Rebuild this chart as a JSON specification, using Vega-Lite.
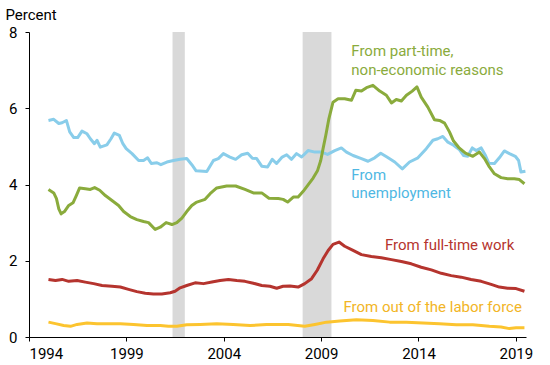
{
  "$schema": "https://vega.github.io/schema/vega-lite/v6.json",
  "width": 497,
  "height": 305,
  "autosize": {"type": "none"},
  "padding": {"left": 29, "top": 32, "right": 24, "bottom": 28},
  "background": "white",
  "config": {
    "view": {"stroke": null},
    "font": "Roboto",
    "axis": {"grid": false, "domainColor": "black", "tickColor": "black", "labelColor": "black", "labelFont": "Roboto", "labelFontSize": 15, "tickSize": 4, "domainWidth": 1, "tickWidth": 1}
  },
  "datasets": {
    "recessions": [
      {"start": 2001.37, "end": 2002.0},
      {"start": 2008.05, "end": 2009.53}
    ],
    "series": [
      {"series": "Unemployment", "year": 1995.0, "value": 5.68},
      {"series": "Unemployment", "year": 1995.27, "value": 5.71},
      {"series": "Unemployment", "year": 1995.53, "value": 5.6},
      {"series": "Unemployment", "year": 1995.7, "value": 5.62},
      {"series": "Unemployment", "year": 1995.92, "value": 5.68},
      {"series": "Unemployment", "year": 1996.09, "value": 5.38},
      {"series": "Unemployment", "year": 1996.3, "value": 5.23},
      {"series": "Unemployment", "year": 1996.5, "value": 5.23},
      {"series": "Unemployment", "year": 1996.72, "value": 5.4},
      {"series": "Unemployment", "year": 1996.98, "value": 5.33},
      {"series": "Unemployment", "year": 1997.15, "value": 5.2},
      {"series": "Unemployment", "year": 1997.36, "value": 5.07},
      {"series": "Unemployment", "year": 1997.49, "value": 5.16},
      {"series": "Unemployment", "year": 1997.66, "value": 4.98},
      {"series": "Unemployment", "year": 1998.0, "value": 5.04},
      {"series": "Unemployment", "year": 1998.21, "value": 5.2},
      {"series": "Unemployment", "year": 1998.38, "value": 5.35},
      {"series": "Unemployment", "year": 1998.64, "value": 5.29},
      {"series": "Unemployment", "year": 1998.82, "value": 5.07},
      {"series": "Unemployment", "year": 1998.99, "value": 4.94},
      {"series": "Unemployment", "year": 1999.29, "value": 4.81},
      {"series": "Unemployment", "year": 1999.63, "value": 4.63},
      {"series": "Unemployment", "year": 1999.88, "value": 4.63},
      {"series": "Unemployment", "year": 2000.09, "value": 4.7},
      {"series": "Unemployment", "year": 2000.28, "value": 4.55},
      {"series": "Unemployment", "year": 2000.57, "value": 4.57},
      {"series": "Unemployment", "year": 2000.77, "value": 4.52},
      {"series": "Unemployment", "year": 2001.08, "value": 4.59},
      {"series": "Unemployment", "year": 2001.42, "value": 4.63},
      {"series": "Unemployment", "year": 2001.76, "value": 4.66},
      {"series": "Unemployment", "year": 2002.1, "value": 4.68},
      {"series": "Unemployment", "year": 2002.36, "value": 4.52},
      {"series": "Unemployment", "year": 2002.58, "value": 4.36},
      {"series": "Unemployment", "year": 2003.13, "value": 4.34},
      {"series": "Unemployment", "year": 2003.47, "value": 4.63},
      {"series": "Unemployment", "year": 2003.72, "value": 4.68},
      {"series": "Unemployment", "year": 2003.98, "value": 4.81},
      {"series": "Unemployment", "year": 2004.32, "value": 4.72},
      {"series": "Unemployment", "year": 2004.61, "value": 4.66},
      {"series": "Unemployment", "year": 2004.92, "value": 4.78},
      {"series": "Unemployment", "year": 2005.23, "value": 4.82},
      {"series": "Unemployment", "year": 2005.47, "value": 4.69},
      {"series": "Unemployment", "year": 2005.69, "value": 4.68},
      {"series": "Unemployment", "year": 2005.95, "value": 4.48},
      {"series": "Unemployment", "year": 2006.25, "value": 4.46},
      {"series": "Unemployment", "year": 2006.49, "value": 4.66},
      {"series": "Unemployment", "year": 2006.71, "value": 4.55},
      {"series": "Unemployment", "year": 2007.0, "value": 4.72},
      {"series": "Unemployment", "year": 2007.23, "value": 4.78},
      {"series": "Unemployment", "year": 2007.48, "value": 4.66},
      {"series": "Unemployment", "year": 2007.74, "value": 4.81},
      {"series": "Unemployment", "year": 2008.0, "value": 4.72},
      {"series": "Unemployment", "year": 2008.33, "value": 4.89},
      {"series": "Unemployment", "year": 2008.68, "value": 4.85},
      {"series": "Unemployment", "year": 2009.02, "value": 4.85},
      {"series": "Unemployment", "year": 2009.33, "value": 4.79},
      {"series": "Unemployment", "year": 2009.7, "value": 4.89},
      {"series": "Unemployment", "year": 2010.04, "value": 4.96},
      {"series": "Unemployment", "year": 2010.3, "value": 4.85},
      {"series": "Unemployment", "year": 2010.64, "value": 4.76},
      {"series": "Unemployment", "year": 2011.07, "value": 4.68},
      {"series": "Unemployment", "year": 2011.41, "value": 4.61},
      {"series": "Unemployment", "year": 2011.75, "value": 4.7},
      {"series": "Unemployment", "year": 2012.06, "value": 4.82},
      {"series": "Unemployment", "year": 2012.38, "value": 4.72},
      {"series": "Unemployment", "year": 2012.78, "value": 4.59},
      {"series": "Unemployment", "year": 2013.17, "value": 4.41},
      {"series": "Unemployment", "year": 2013.54, "value": 4.59},
      {"series": "Unemployment", "year": 2013.97, "value": 4.7},
      {"series": "Unemployment", "year": 2014.4, "value": 4.94},
      {"series": "Unemployment", "year": 2014.74, "value": 5.16},
      {"series": "Unemployment", "year": 2014.99, "value": 5.2},
      {"series": "Unemployment", "year": 2015.25, "value": 5.26},
      {"series": "Unemployment", "year": 2015.51, "value": 5.11},
      {"series": "Unemployment", "year": 2015.8, "value": 5.03},
      {"series": "Unemployment", "year": 2016.11, "value": 4.91},
      {"series": "Unemployment", "year": 2016.31, "value": 4.76},
      {"series": "Unemployment", "year": 2016.53, "value": 4.74},
      {"series": "Unemployment", "year": 2016.76, "value": 4.96},
      {"series": "Unemployment", "year": 2016.96, "value": 4.89},
      {"series": "Unemployment", "year": 2017.22, "value": 4.96},
      {"series": "Unemployment", "year": 2017.44, "value": 4.76},
      {"series": "Unemployment", "year": 2017.61, "value": 4.56},
      {"series": "Unemployment", "year": 2017.9, "value": 4.55},
      {"series": "Unemployment", "year": 2018.15, "value": 4.7},
      {"series": "Unemployment", "year": 2018.41, "value": 4.88},
      {"series": "Unemployment", "year": 2018.67, "value": 4.81},
      {"series": "Unemployment", "year": 2018.97, "value": 4.74},
      {"series": "Unemployment", "year": 2019.14, "value": 4.63},
      {"series": "Unemployment", "year": 2019.26, "value": 4.33},
      {"series": "Unemployment", "year": 2019.49, "value": 4.35},

      {"series": "Part-time", "year": 1995.0, "value": 3.87},
      {"series": "Part-time", "year": 1995.27, "value": 3.78},
      {"series": "Part-time", "year": 1995.41, "value": 3.63},
      {"series": "Part-time", "year": 1995.53, "value": 3.36},
      {"series": "Part-time", "year": 1995.65, "value": 3.23},
      {"series": "Part-time", "year": 1995.82, "value": 3.29},
      {"series": "Part-time", "year": 1996.04, "value": 3.45},
      {"series": "Part-time", "year": 1996.26, "value": 3.52},
      {"series": "Part-time", "year": 1996.43, "value": 3.71},
      {"series": "Part-time", "year": 1996.6, "value": 3.91},
      {"series": "Part-time", "year": 1996.89, "value": 3.89},
      {"series": "Part-time", "year": 1997.15, "value": 3.87},
      {"series": "Part-time", "year": 1997.37, "value": 3.92},
      {"series": "Part-time", "year": 1997.63, "value": 3.85},
      {"series": "Part-time", "year": 1997.92, "value": 3.71},
      {"series": "Part-time", "year": 1998.26, "value": 3.58},
      {"series": "Part-time", "year": 1998.6, "value": 3.45},
      {"series": "Part-time", "year": 1998.86, "value": 3.29},
      {"series": "Part-time", "year": 1999.2, "value": 3.16},
      {"series": "Part-time", "year": 1999.54, "value": 3.08},
      {"series": "Part-time", "year": 1999.88, "value": 3.03},
      {"series": "Part-time", "year": 2000.14, "value": 3.0},
      {"series": "Part-time", "year": 2000.48, "value": 2.82},
      {"series": "Part-time", "year": 2000.74, "value": 2.88},
      {"series": "Part-time", "year": 2001.04, "value": 3.0},
      {"series": "Part-time", "year": 2001.34, "value": 2.95},
      {"series": "Part-time", "year": 2001.59, "value": 3.0},
      {"series": "Part-time", "year": 2001.85, "value": 3.12},
      {"series": "Part-time", "year": 2002.1, "value": 3.29},
      {"series": "Part-time", "year": 2002.36, "value": 3.45},
      {"series": "Part-time", "year": 2002.58, "value": 3.53},
      {"series": "Part-time", "year": 2003.04, "value": 3.61},
      {"series": "Part-time", "year": 2003.3, "value": 3.76},
      {"series": "Part-time", "year": 2003.64, "value": 3.91},
      {"series": "Part-time", "year": 2004.15, "value": 3.96},
      {"series": "Part-time", "year": 2004.61, "value": 3.96},
      {"series": "Part-time", "year": 2005.09, "value": 3.87},
      {"series": "Part-time", "year": 2005.52, "value": 3.78},
      {"series": "Part-time", "year": 2005.95, "value": 3.78},
      {"series": "Part-time", "year": 2006.32, "value": 3.64},
      {"series": "Part-time", "year": 2006.8, "value": 3.63},
      {"series": "Part-time", "year": 2007.05, "value": 3.61},
      {"series": "Part-time", "year": 2007.28, "value": 3.54},
      {"series": "Part-time", "year": 2007.57, "value": 3.67},
      {"series": "Part-time", "year": 2007.82, "value": 3.67},
      {"series": "Part-time", "year": 2008.08, "value": 3.82},
      {"series": "Part-time", "year": 2008.33, "value": 3.99},
      {"series": "Part-time", "year": 2008.59, "value": 4.17},
      {"series": "Part-time", "year": 2008.82, "value": 4.37},
      {"series": "Part-time", "year": 2008.98, "value": 4.63},
      {"series": "Part-time", "year": 2009.1, "value": 4.94},
      {"series": "Part-time", "year": 2009.24, "value": 5.29},
      {"series": "Part-time", "year": 2009.4, "value": 5.73},
      {"series": "Part-time", "year": 2009.61, "value": 6.16},
      {"series": "Part-time", "year": 2009.87, "value": 6.25},
      {"series": "Part-time", "year": 2010.21, "value": 6.25},
      {"series": "Part-time", "year": 2010.56, "value": 6.21},
      {"series": "Part-time", "year": 2010.78, "value": 6.47},
      {"series": "Part-time", "year": 2011.07, "value": 6.45},
      {"series": "Part-time", "year": 2011.33, "value": 6.54},
      {"series": "Part-time", "year": 2011.66, "value": 6.6},
      {"series": "Part-time", "year": 2012.01, "value": 6.45},
      {"series": "Part-time", "year": 2012.35, "value": 6.34},
      {"series": "Part-time", "year": 2012.61, "value": 6.14},
      {"series": "Part-time", "year": 2012.86, "value": 6.23},
      {"series": "Part-time", "year": 2013.12, "value": 6.19},
      {"series": "Part-time", "year": 2013.38, "value": 6.34},
      {"series": "Part-time", "year": 2013.68, "value": 6.45},
      {"series": "Part-time", "year": 2013.92, "value": 6.56},
      {"series": "Part-time", "year": 2014.14, "value": 6.29},
      {"series": "Part-time", "year": 2014.48, "value": 6.03},
      {"series": "Part-time", "year": 2014.82, "value": 5.7},
      {"series": "Part-time", "year": 2015.08, "value": 5.68},
      {"series": "Part-time", "year": 2015.34, "value": 5.61},
      {"series": "Part-time", "year": 2015.59, "value": 5.38},
      {"series": "Part-time", "year": 2015.8, "value": 5.14},
      {"series": "Part-time", "year": 2016.07, "value": 4.97},
      {"series": "Part-time", "year": 2016.41, "value": 4.82},
      {"series": "Part-time", "year": 2016.79, "value": 4.74},
      {"series": "Part-time", "year": 2017.13, "value": 4.85},
      {"series": "Part-time", "year": 2017.39, "value": 4.68},
      {"series": "Part-time", "year": 2017.64, "value": 4.46},
      {"series": "Part-time", "year": 2017.9, "value": 4.28},
      {"series": "Part-time", "year": 2018.24, "value": 4.18},
      {"series": "Part-time", "year": 2018.58, "value": 4.15},
      {"series": "Part-time", "year": 2018.92, "value": 4.15},
      {"series": "Part-time", "year": 2019.18, "value": 4.13},
      {"series": "Part-time", "year": 2019.44, "value": 4.02},

      {"series": "Full-time", "year": 1995.0, "value": 1.51},
      {"series": "Full-time", "year": 1995.36, "value": 1.48},
      {"series": "Full-time", "year": 1995.7, "value": 1.51},
      {"series": "Full-time", "year": 1996.04, "value": 1.46},
      {"series": "Full-time", "year": 1996.47, "value": 1.48},
      {"series": "Full-time", "year": 1996.89, "value": 1.44},
      {"series": "Full-time", "year": 1997.32, "value": 1.4},
      {"series": "Full-time", "year": 1997.75, "value": 1.35},
      {"series": "Full-time", "year": 1998.26, "value": 1.33},
      {"series": "Full-time", "year": 1998.69, "value": 1.31},
      {"series": "Full-time", "year": 1999.11, "value": 1.25},
      {"series": "Full-time", "year": 1999.54, "value": 1.19},
      {"series": "Full-time", "year": 1999.97, "value": 1.15},
      {"series": "Full-time", "year": 2000.39, "value": 1.13},
      {"series": "Full-time", "year": 2000.82, "value": 1.13},
      {"series": "Full-time", "year": 2001.25, "value": 1.16},
      {"series": "Full-time", "year": 2001.5, "value": 1.2},
      {"series": "Full-time", "year": 2001.76, "value": 1.29},
      {"series": "Full-time", "year": 2002.1, "value": 1.35},
      {"series": "Full-time", "year": 2002.53, "value": 1.42},
      {"series": "Full-time", "year": 2002.96, "value": 1.4},
      {"series": "Full-time", "year": 2003.39, "value": 1.44},
      {"series": "Full-time", "year": 2003.81, "value": 1.48},
      {"series": "Full-time", "year": 2004.24, "value": 1.51},
      {"series": "Full-time", "year": 2004.67, "value": 1.48},
      {"series": "Full-time", "year": 2005.09, "value": 1.46},
      {"series": "Full-time", "year": 2005.52, "value": 1.41},
      {"series": "Full-time", "year": 2005.95, "value": 1.35},
      {"series": "Full-time", "year": 2006.37, "value": 1.33},
      {"series": "Full-time", "year": 2006.72, "value": 1.28},
      {"series": "Full-time", "year": 2007.05, "value": 1.33},
      {"series": "Full-time", "year": 2007.4, "value": 1.34},
      {"series": "Full-time", "year": 2007.82, "value": 1.31},
      {"series": "Full-time", "year": 2008.16, "value": 1.4},
      {"series": "Full-time", "year": 2008.51, "value": 1.53},
      {"series": "Full-time", "year": 2008.8, "value": 1.75},
      {"series": "Full-time", "year": 2009.1, "value": 2.05},
      {"series": "Full-time", "year": 2009.36, "value": 2.27},
      {"series": "Full-time", "year": 2009.61, "value": 2.43},
      {"series": "Full-time", "year": 2009.92, "value": 2.49},
      {"series": "Full-time", "year": 2010.21, "value": 2.38},
      {"series": "Full-time", "year": 2010.64, "value": 2.27},
      {"series": "Full-time", "year": 2011.07, "value": 2.16},
      {"series": "Full-time", "year": 2011.58, "value": 2.11},
      {"series": "Full-time", "year": 2012.09, "value": 2.08},
      {"series": "Full-time", "year": 2012.61, "value": 2.03},
      {"series": "Full-time", "year": 2013.12, "value": 1.98},
      {"series": "Full-time", "year": 2013.63, "value": 1.92},
      {"series": "Full-time", "year": 2014.14, "value": 1.83},
      {"series": "Full-time", "year": 2014.66, "value": 1.76},
      {"series": "Full-time", "year": 2015.17, "value": 1.67},
      {"series": "Full-time", "year": 2015.68, "value": 1.61},
      {"series": "Full-time", "year": 2016.19, "value": 1.57},
      {"series": "Full-time", "year": 2016.7, "value": 1.51},
      {"series": "Full-time", "year": 2017.22, "value": 1.46},
      {"series": "Full-time", "year": 2017.73, "value": 1.38},
      {"series": "Full-time", "year": 2018.15, "value": 1.31},
      {"series": "Full-time", "year": 2018.58, "value": 1.28},
      {"series": "Full-time", "year": 2019.01, "value": 1.27},
      {"series": "Full-time", "year": 2019.44, "value": 1.2},

      {"series": "Out of labor force", "year": 1995.0, "value": 0.39},
      {"series": "Out of labor force", "year": 1995.36, "value": 0.35},
      {"series": "Out of labor force", "year": 1995.78, "value": 0.3},
      {"series": "Out of labor force", "year": 1996.13, "value": 0.28},
      {"series": "Out of labor force", "year": 1996.47, "value": 0.33},
      {"series": "Out of labor force", "year": 1996.98, "value": 0.37},
      {"series": "Out of labor force", "year": 1997.49, "value": 0.35},
      {"series": "Out of labor force", "year": 1998.0, "value": 0.35},
      {"series": "Out of labor force", "year": 1998.69, "value": 0.35},
      {"series": "Out of labor force", "year": 1999.37, "value": 0.33},
      {"series": "Out of labor force", "year": 2000.06, "value": 0.3},
      {"series": "Out of labor force", "year": 2000.74, "value": 0.3},
      {"series": "Out of labor force", "year": 2001.16, "value": 0.28},
      {"series": "Out of labor force", "year": 2001.59, "value": 0.28},
      {"series": "Out of labor force", "year": 2002.1, "value": 0.32},
      {"series": "Out of labor force", "year": 2002.79, "value": 0.33},
      {"series": "Out of labor force", "year": 2003.64, "value": 0.35},
      {"series": "Out of labor force", "year": 2004.49, "value": 0.33},
      {"series": "Out of labor force", "year": 2005.35, "value": 0.3},
      {"series": "Out of labor force", "year": 2006.2, "value": 0.33},
      {"series": "Out of labor force", "year": 2007.31, "value": 0.33},
      {"series": "Out of labor force", "year": 2008.16, "value": 0.28},
      {"series": "Out of labor force", "year": 2008.68, "value": 0.33},
      {"series": "Out of labor force", "year": 2009.28, "value": 0.39},
      {"series": "Out of labor force", "year": 2009.96, "value": 0.42},
      {"series": "Out of labor force", "year": 2010.81, "value": 0.45},
      {"series": "Out of labor force", "year": 2011.66, "value": 0.43},
      {"series": "Out of labor force", "year": 2012.52, "value": 0.39},
      {"series": "Out of labor force", "year": 2013.38, "value": 0.39},
      {"series": "Out of labor force", "year": 2014.23, "value": 0.37},
      {"series": "Out of labor force", "year": 2015.08, "value": 0.35},
      {"series": "Out of labor force", "year": 2015.94, "value": 0.32},
      {"series": "Out of labor force", "year": 2016.79, "value": 0.32},
      {"series": "Out of labor force", "year": 2017.64, "value": 0.28},
      {"series": "Out of labor force", "year": 2018.24, "value": 0.26},
      {"series": "Out of labor force", "year": 2018.67, "value": 0.22},
      {"series": "Out of labor force", "year": 2019.01, "value": 0.24},
      {"series": "Out of labor force", "year": 2019.44, "value": 0.24}
    ],
    "labels": [
      {"series": "Part-time", "year": 2010.55, "value": 7.49, "text": "From part-time,"},
      {"series": "Part-time", "year": 2010.55, "value": 7.01, "text": "non-economic reasons"},
      {"series": "Unemployment", "year": 2010.55, "value": 4.25, "text": "From"},
      {"series": "Unemployment", "year": 2010.55, "value": 3.78, "text": "unemployment"},
      {"series": "Full-time", "year": 2012.28, "value": 2.41, "text": "From full-time work"},
      {"series": "Out of labor force", "year": 2010.15, "value": 0.79, "text": "From out of the labor force"}
    ]
  },
  "layer": [
    {
      "data": {"name": "recessions"},
      "mark": {"type": "rect", "color": "#d9d9d9"},
      "encoding": {
        "x": {"field": "start", "type": "quantitative", "scale": {"domain": [1994, 2019.52], "nice": false, "zero": false},
          "axis": {"values": [1994, 1999, 2004, 2009, 2014, 2019], "format": "d", "title": null, "labelPadding": 5}},
        "x2": {"field": "end"}
      }
    },
    {
      "data": {"name": "series"},
      "mark": {"type": "line", "strokeWidth": 3, "strokeJoin": "round"},
      "encoding": {
        "x": {"field": "year", "type": "quantitative"},
        "y": {"field": "value", "type": "quantitative", "scale": {"domain": [0, 8], "nice": false},
          "axis": {"values": [0, 2, 4, 6, 8], "title": "Percent", "titleAngle": 0, "titleAlign": "left", "titleBaseline": "alphabetic", "titleX": -24, "titleY": -13, "titleFont": "Roboto", "titleFontSize": 15, "titleFontWeight": "normal", "titleColor": "black", "labelPadding": 8}},
        "color": {"field": "series", "type": "nominal", "legend": null,
          "scale": {"domain": ["Unemployment", "Part-time", "Full-time", "Out of labor force"], "range": ["#89cdea", "#8aab3c", "#b5342e", "#fcc42f"]}},
        "order": {"field": "year"}
      }
    },
    {
      "data": {"name": "labels"},
      "mark": {"type": "text", "align": "left", "baseline": "middle", "font": "Roboto", "fontSize": 15},
      "encoding": {
        "x": {"field": "year", "type": "quantitative"},
        "y": {"field": "value", "type": "quantitative"},
        "text": {"field": "text"},
        "color": {"field": "series", "type": "nominal", "legend": null,
          "scale": {"domain": ["Unemployment", "Part-time", "Full-time", "Out of labor force"], "range": ["#4fb8e3", "#8aab3c", "#b5342e", "#f2b526"]}}
      }
    }
  ],
  "resolve": {"scale": {"color": "independent"}}
}
